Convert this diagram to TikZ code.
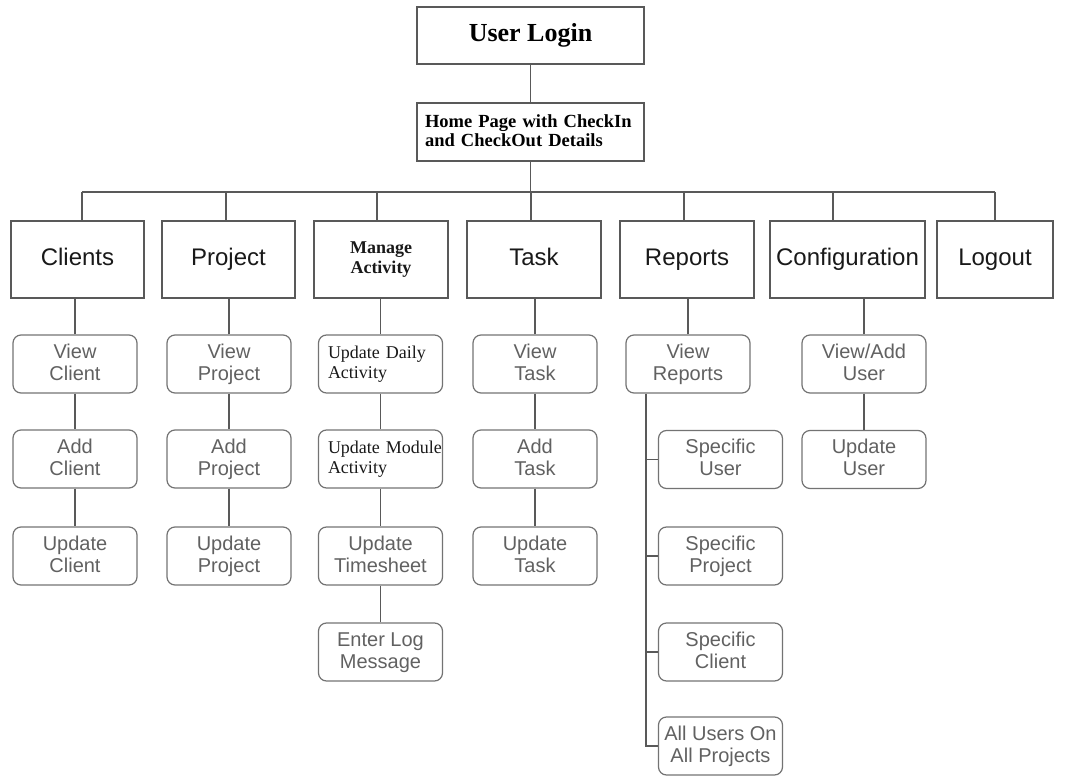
\documentclass[tikz,border=0pt]{standalone}
\usepackage{fontspec}
\setmainfont{Liberation Serif}
\newfontfamily\arialf{Liberation Sans}
\begin{document}
\begin{tikzpicture}[x=1pt,y=-1pt,
  conn/.style={draw=black!65, line width=1.3pt},
  topbox/.style={draw=black!65, line width=1.4pt, minimum width=#1, minimum height=77, inner sep=0pt, align=center,
    text height=17pt, text depth=5pt,
    font=\arialf\fontsize{24}{26}\selectfont, text=black!90},
  serifbox/.style={draw=black!65, line width=1.4pt, minimum width=#1, inner sep=0pt, align=center, text=black},
  subbox/.style={draw=black!55, rounded corners=8pt, line width=1.2pt, minimum width=124, minimum height=58, inner sep=0pt,
    align=center, text height=37pt, text depth=5pt, font=\arialf\fontsize{20}{22}\selectfont, text=black!62},
  subserif/.style={subbox, font=\fontsize{18}{20}\selectfont, text height=13pt, text depth=25pt, text=black!90, align=left, text width=105}
]
\useasboundingbox (0,0) rectangle (1066,776);

% top
\node[serifbox=227, minimum height=57, text height=18pt, text depth=6pt, font=\bfseries\fontsize{26}{28}\selectfont] (login) at (530.5,35.5) {User Login};
\node[serifbox=227, minimum height=58, align=left, text width=211, text height=14pt, text depth=24pt, font=\bfseries\fontsize{18.5}{20}\selectfont] (home) at (530.5,132) {Home Page with CheckIn\\and CheckOut Details};

% level 1
\node[topbox=133] (clients) at (77.5,259.5) {Clients};
\node[topbox=133] (project) at (228.5,259.5) {Project};
\node[topbox=134, text height=33pt, text depth=5pt, font=\bfseries\fontsize{18}{20}\selectfont] (manage) at (381,259.5) {Manage\\Activity};
\node[topbox=134] (task) at (534,259.5) {Task};
\node[topbox=134] (reports) at (687,259.5) {Reports};
\node[topbox=155] (config) at (847.5,259.5) {Configuration};
\node[topbox=116] (logout) at (995,259.5) {Logout};

% bus
\coordinate (b1) at (82,192);
\coordinate (b2) at (226,192);
\coordinate (b3) at (377,192);
\coordinate (b4) at (531,192);
\coordinate (b5) at (684,192);
\coordinate (b6) at (833,192);
\coordinate (b7) at (995,192);
\draw[conn] (login.south) -- (home.north);
\draw[conn] (home.south) -- (home.south |- b1);
\draw[conn] (b1) -- (b7);
\draw[conn] (b1) -- (b1 |- clients.north);
\draw[conn] (b2) -- (b2 |- project.north);
\draw[conn] (b3) -- (b3 |- manage.north);
\draw[conn] (b4) -- (b4 |- task.north);
\draw[conn] (b5) -- (b5 |- reports.north);
\draw[conn] (b6) -- (b6 |- config.north);
\draw[conn] (b7) -- (b7 |- logout.north);

% clients
\node[subbox] (vc) at (75,364) {View\\Client};
\node[subbox] (ac) at (75,459) {Add\\Client};
\node[subbox] (uc) at (75,556) {Update\\Client};
% project
\node[subbox] (vp) at (229,364) {View\\Project};
\node[subbox] (ap) at (229,459) {Add\\Project};
\node[subbox] (up) at (229,556) {Update\\Project};
% manage
\node[subserif] (uda) at (380.5,364) {Update Daily\\Activity};
\node[subserif] (uma) at (380.5,459) {\mbox{Update Module}\\Activity};
\node[subbox] (ut) at (380.5,556) {Update\\Timesheet};
\node[subbox] (el) at (380.5,652) {Enter Log\\Message};
% task
\node[subbox] (vt) at (535,364) {View\\Task};
\node[subbox] (at) at (535,459) {Add\\Task};
\node[subbox] (utk) at (535,556) {Update\\Task};
% reports
\node[subbox] (vr) at (688,364) {View\\Reports};
\node[subbox] (su) at (720.5,459.5) {Specific\\User};
\node[subbox] (sp) at (720.5,556) {Specific\\Project};
\node[subbox] (sc) at (720.5,652) {Specific\\Client};
\node[subbox] (au) at (720.5,746) {All Users On\\All Projects};
% config
\node[subbox] (vau) at (864,364) {View/Add\\User};
\node[subbox] (uu) at (864,459.5) {Update\\User};

% vertical connectors
\foreach \t/\c in {clients/vc, project/vp, manage/uda, task/vt, reports/vr, config/vau}
  \draw[conn] (\c.north) -- (\c.north |- \t.south);
\foreach \a/\b in {vc/ac, ac/uc, vp/ap, ap/up, uda/uma, uma/ut, ut/el, vt/at, at/utk, vau/uu}
  \draw[conn] (\a.south) -- (\b.north);

% reports spine
\coordinate (spine) at (646,0);
\draw[conn] (spine |- vr.south) -- (spine |- au.west) -- (au.west);
\foreach \c in {su, sp, sc}
  \draw[conn] (spine |- \c.west) -- (\c.west);
\end{tikzpicture}
\end{document}
